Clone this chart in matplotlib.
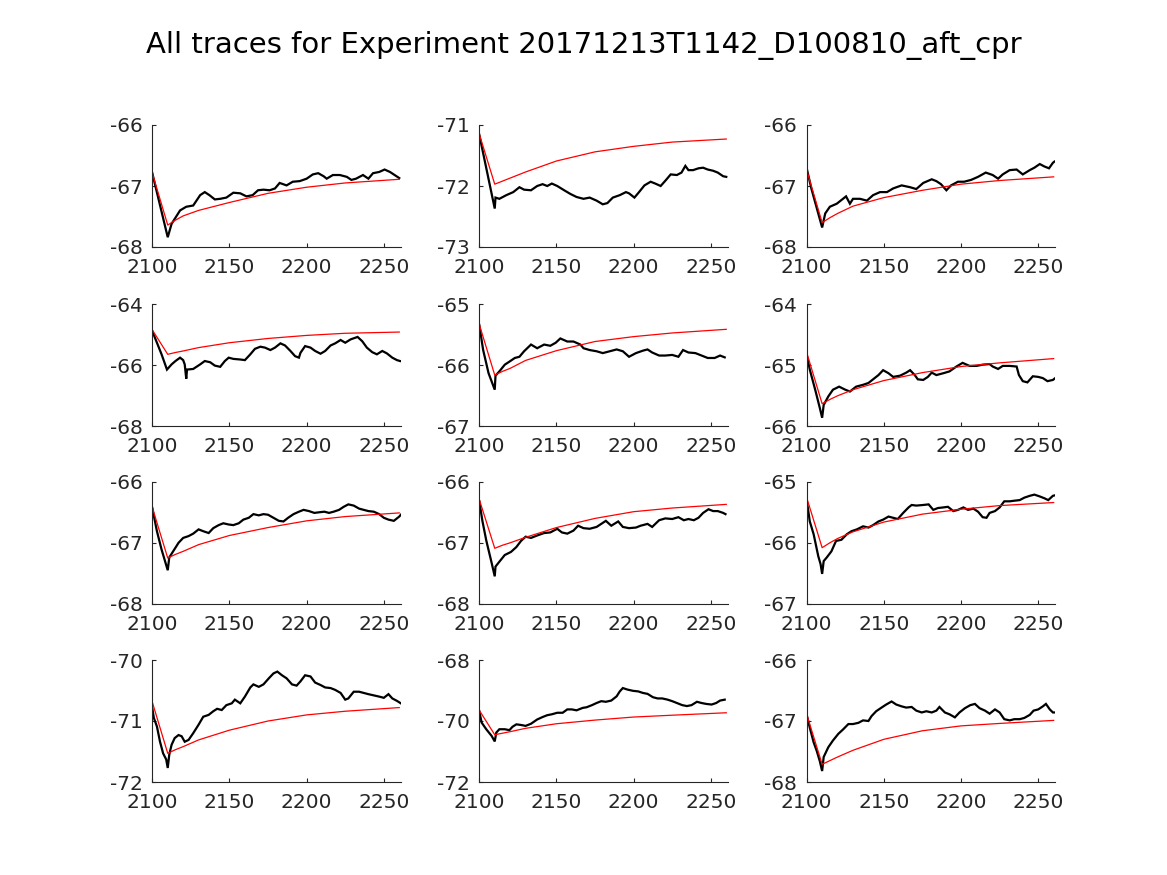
import matplotlib
matplotlib.use("Agg")
import matplotlib.pyplot as plt

title = "All traces for Experiment 20171213T1142_D100810_aft_cpr"

x_ticks = [2100, 2150, 2200, 2250]
x_limits = (2100, 2261)

# y-axis ticks of each panel (row-major order)
y_ticks = [
    [-68, -67, -66], [-73, -72, -71], [-68, -67, -66],
    [-68, -66, -64], [-67, -66, -65], [-66, -65, -64],
    [-68, -67, -66], [-68, -67, -66], [-67, -66, -65],
    [-72, -71, -70], [-72, -70, -68], [-68, -67, -66],
]

# Fitted (red) curves, common time grid
fit_t = [2100, 2110, 2115, 2120, 2130, 2150, 2175, 2200, 2225, 2260]
fit_1 = [-66.79, -67.64, -67.56, -67.49, -67.40, -67.27, -67.12, -67.02, -66.95, -66.89]
fit_2 = [-71.15, -71.97, -71.92, -71.87, -71.77, -71.59, -71.44, -71.35, -71.28, -71.23]
fit_3 = [-66.74, -67.60, -67.52, -67.45, -67.33, -67.19, -67.07, -66.97, -66.91, -66.85]
fit_4 = [-64.84, -65.64, -65.58, -65.53, -65.42, -65.26, -65.12, -65.02, -64.95, -64.91]
fit_5 = [-65.33, -66.16, -66.10, -66.05, -65.92, -65.76, -65.61, -65.53, -65.47, -65.41]
fit_6 = [-64.79, -65.63, -65.56, -65.50, -65.40, -65.25, -65.12, -65.02, -64.96, -64.89]
fit_7 = [-66.42, -67.25, -67.19, -67.14, -67.03, -66.88, -66.75, -66.64, -66.57, -66.51]
fit_8 = [-66.29, -67.09, -67.04, -67.00, -66.91, -66.75, -66.60, -66.49, -66.43, -66.37]
fit_9 = [-65.26, -66.08, -66.00, -65.93, -65.82, -65.66, -65.53, -65.45, -65.39, -65.34]
fit_10 = [-70.69, -71.53, -71.47, -71.42, -71.31, -71.15, -71.00, -70.90, -70.84, -70.78]
fit_11 = [-69.65, -70.45, -70.40, -70.35, -70.24, -70.09, -69.97, -69.87, -69.81, -69.73]
fit_12 = [-66.89, -67.71, -67.65, -67.59, -67.48, -67.30, -67.16, -67.08, -67.04, -66.99]

# Recorded (black) traces
trace_t_1 = [2100, 2110, 2112.5, 2118, 2122, 2126.5, 2131, 2134, 2137, 2140.5, 2144, 2148, 2152.5, 2157,
             2161, 2165, 2168.5, 2172, 2176, 2179.5, 2182.5, 2187, 2191, 2195.5, 2200, 2204, 2207.5, 2211,
             2213, 2217, 2221.5, 2226, 2229, 2232, 2236.5, 2240, 2243, 2247, 2250.5, 2254, 2257, 2260]
trace_v_1 = [-66.79, -67.84, -67.62, -67.40, -67.34, -67.32, -67.15, -67.10, -67.15, -67.22, -67.21, -67.19,
             -67.11, -67.12, -67.17, -67.15, -67.07, -67.06, -67.07, -67.04, -66.95, -66.99, -66.93, -66.92,
             -66.88, -66.81, -66.79, -66.84, -66.88, -66.82, -66.82, -66.85, -66.90, -66.88, -66.82, -66.88,
             -66.79, -66.77, -66.73, -66.77, -66.82, -66.87]

trace_t_2 = [2100, 2110, 2110.5, 2113, 2117.5, 2122, 2126, 2129, 2133.5, 2137.5, 2141, 2144, 2147, 2150.5,
             2155, 2159, 2163, 2167.5, 2171.5, 2176, 2180, 2183, 2186.5, 2191, 2195, 2197, 2200.5, 2203.5,
             2207, 2211, 2214, 2217.5, 2221, 2224, 2228, 2231, 2233.5, 2235.5, 2238.5, 2242, 2245, 2248,
             2251.5, 2254.5, 2258, 2260]
trace_v_2 = [-71.16, -72.37, -72.19, -72.21, -72.15, -72.10, -72.02, -72.06, -72.07, -72.00, -71.97, -72.00,
             -71.96, -72.00, -72.07, -72.13, -72.18, -72.21, -72.19, -72.24, -72.30, -72.28, -72.19, -72.15,
             -72.10, -72.12, -72.19, -72.10, -71.99, -71.93, -71.96, -72.00, -71.90, -71.81, -71.82, -71.78,
             -71.67, -71.74, -71.74, -71.71, -71.70, -71.73, -71.75, -71.78, -71.84, -71.85]

trace_t_3 = [2100, 2103, 2110, 2112, 2115, 2119.5, 2122.5, 2125.5, 2128, 2130, 2134.5, 2139, 2143, 2147.5,
             2152, 2156, 2161.5, 2167, 2171, 2175.5, 2181, 2184, 2187, 2190.5, 2193.5, 2198, 2202, 2206.5,
             2211, 2216, 2220.5, 2224, 2227, 2231.5, 2236, 2240, 2244.5, 2247.5, 2251, 2254, 2257, 2259.5,
             2260.5]
trace_v_3 = [-66.71, -67.04, -67.68, -67.45, -67.34, -67.29, -67.23, -67.17, -67.29, -67.21, -67.21, -67.24,
             -67.15, -67.10, -67.10, -67.04, -66.99, -67.02, -67.05, -66.95, -66.89, -66.92, -66.97, -67.07,
             -66.99, -66.93, -66.93, -66.90, -66.85, -66.78, -66.82, -66.88, -66.81, -66.74, -66.73, -66.81,
             -66.74, -66.70, -66.64, -66.68, -66.71, -66.62, -66.60]

trace_t_4 = [2100, 2103, 2106, 2109.5, 2112.5, 2115, 2118, 2120, 2121, 2122, 2122.5, 2126.5, 2131, 2134,
             2137.5, 2140.5, 2144, 2147, 2149.5, 2152.5, 2157, 2160, 2163.5, 2166.5, 2170, 2173, 2176.5,
             2179.5, 2183, 2186, 2189.5, 2192.5, 2195, 2196, 2199, 2202.5, 2205.5, 2209, 2212, 2215.5,
             2218.5, 2222, 2225, 2228.5, 2233, 2236, 2239, 2242.5, 2245.5, 2249, 2252, 2255.5, 2258.5, 2260.5]
trace_v_4 = [-64.88, -65.26, -65.64, -66.14, -65.97, -65.86, -65.75, -65.83, -65.97, -66.44, -66.14, -66.12,
             -65.97, -65.86, -65.90, -66.01, -66.05, -65.86, -65.75, -65.79, -65.81, -65.83, -65.64, -65.46,
             -65.39, -65.42, -65.50, -65.42, -65.28, -65.35, -65.53, -65.70, -65.75, -65.59, -65.37, -65.42,
             -65.53, -65.62, -65.53, -65.35, -65.28, -65.17, -65.26, -65.15, -65.07, -65.21, -65.42, -65.57,
             -65.64, -65.53, -65.61, -65.75, -65.83, -65.86]

trace_t_5 = [2100, 2102.5, 2106, 2110, 2110.5, 2113, 2116.5, 2119.5, 2123, 2126, 2129, 2133.5, 2137.5, 2142,
             2146, 2149.5, 2152.5, 2157, 2161, 2165.5, 2167.5, 2171.5, 2176, 2180, 2184.5, 2189, 2193, 2197,
             2201.5, 2206, 2209, 2212, 2216.5, 2220.5, 2225, 2229, 2232, 2235.5, 2240, 2244, 2248, 2252.5,
             2256, 2259]
trace_v_5 = [-65.34, -65.75, -66.13, -66.40, -66.17, -66.10, -65.99, -65.94, -65.88, -65.86, -65.77, -65.66,
             -65.72, -65.66, -65.68, -65.63, -65.56, -65.61, -65.61, -65.66, -65.72, -65.75, -65.77, -65.80,
             -65.77, -65.74, -65.77, -65.86, -65.80, -65.76, -65.74, -65.79, -65.84, -65.84, -65.83, -65.86,
             -65.75, -65.79, -65.80, -65.84, -65.88, -65.88, -65.84, -65.87]

trace_t_6 = [2100, 2102, 2105.5, 2108.5, 2110, 2111, 2114, 2117, 2121, 2125, 2128, 2132, 2136.5, 2140, 2143,
             2146.5, 2149.5, 2153, 2156, 2160.5, 2164.5, 2167, 2170, 2172, 2175.5, 2178.5, 2181, 2184, 2188.5,
             2192.5, 2197, 2201, 2205.5, 2210, 2214, 2218.5, 2220.5, 2224, 2227, 2231.5, 2236, 2237.5, 2240,
             2243, 2246.5, 2250, 2253, 2256, 2259.5, 2261]
trace_v_6 = [-64.83, -65.07, -65.40, -65.70, -65.86, -65.65, -65.51, -65.40, -65.35, -65.40, -65.43, -65.35,
             -65.32, -65.29, -65.23, -65.16, -65.08, -65.13, -65.19, -65.17, -65.12, -65.08, -65.16, -65.23,
             -65.24, -65.19, -65.12, -65.16, -65.13, -65.10, -65.02, -64.96, -65.01, -65.01, -64.99, -64.98,
             -65.02, -65.06, -65.01, -65.01, -65.02, -65.16, -65.26, -65.28, -65.18, -65.19, -65.21, -65.26,
             -65.24, -65.21]

trace_t_7 = [2100, 2103, 2106, 2110, 2111, 2113.5, 2117, 2120, 2123.5, 2126.5, 2130, 2133, 2136.5, 2139.5,
             2143, 2146, 2149.5, 2152.5, 2156, 2159, 2162.5, 2165.5, 2169, 2172, 2175, 2178.5, 2182, 2185,
             2188, 2191.5, 2195, 2198, 2201.5, 2205, 2208, 2211.5, 2214.5, 2217.5, 2221, 2224, 2227, 2230.5,
             2234, 2237, 2240, 2243.5, 2247, 2250, 2253, 2256.5, 2260, 2261]
trace_v_7 = [-66.43, -66.81, -67.11, -67.45, -67.24, -67.14, -67.00, -66.92, -66.89, -66.85, -66.78, -66.81,
             -66.84, -66.76, -66.71, -66.68, -66.70, -66.71, -66.68, -66.62, -66.59, -66.53, -66.55, -66.53,
             -66.54, -66.59, -66.64, -66.65, -66.59, -66.53, -66.49, -66.46, -66.48, -66.51, -66.50, -66.49,
             -66.51, -66.49, -66.46, -66.41, -66.37, -66.39, -66.44, -66.46, -66.48, -66.49, -66.53, -66.59,
             -66.62, -66.64, -66.57, -66.54]

trace_t_8 = [2100, 2102, 2104.5, 2108, 2110, 2110.5, 2113, 2116.5, 2120.5, 2124, 2127, 2130, 2133.5, 2137.5,
             2142, 2146, 2150.5, 2153.5, 2157, 2161, 2164, 2167.5, 2171.5, 2176, 2179, 2182, 2185.5, 2190,
             2193, 2197, 2201.5, 2204.5, 2209, 2212, 2216.5, 2220.5, 2225, 2229, 2232.5, 2235.5, 2239, 2242,
             2245, 2248.5, 2251.5, 2254.5, 2258, 2259.5]
trace_v_8 = [-66.32, -66.64, -66.96, -67.33, -67.55, -67.39, -67.31, -67.20, -67.15, -67.07, -66.97, -66.90,
             -66.92, -66.88, -66.84, -66.83, -66.77, -66.83, -66.85, -66.80, -66.72, -66.76, -66.77, -66.74,
             -66.69, -66.64, -66.72, -66.65, -66.74, -66.76, -66.75, -66.72, -66.69, -66.74, -66.63, -66.60,
             -66.61, -66.58, -66.63, -66.61, -66.63, -66.59, -66.51, -66.45, -66.48, -66.48, -66.51, -66.53]

trace_t_9 = [2100, 2102, 2104.5, 2107.5, 2109, 2110, 2111, 2113, 2116, 2119, 2122.5, 2126, 2129, 2132.5,
             2136.5, 2140, 2143, 2146.5, 2149.5, 2153, 2156, 2159, 2162.5, 2166, 2168, 2171, 2175.5, 2179,
             2182, 2185, 2188.5, 2191.5, 2195, 2198, 2201.5, 2204.5, 2208, 2211, 2214, 2216.5, 2218.5, 2222,
             2225, 2228, 2231.5, 2234.5, 2238, 2241, 2244.5, 2247.5, 2251, 2254, 2256.5, 2259.5, 2261]
trace_v_9 = [-65.30, -65.65, -65.86, -66.22, -66.35, -66.51, -66.30, -66.24, -66.14, -65.97, -65.95, -65.86,
             -65.81, -65.78, -65.73, -65.75, -65.71, -65.65, -65.62, -65.57, -65.59, -65.61, -65.51, -65.42,
             -65.38, -65.39, -65.38, -65.37, -65.46, -65.43, -65.42, -65.41, -65.48, -65.46, -65.42, -65.46,
             -65.44, -65.49, -65.58, -65.59, -65.51, -65.48, -65.42, -65.32, -65.32, -65.31, -65.30, -65.26,
             -65.23, -65.21, -65.24, -65.27, -65.30, -65.23, -65.22]

trace_t_10 = [2100, 2101, 2103, 2105, 2107, 2109, 2110, 2111, 2112.5, 2114.5, 2117, 2119, 2121, 2123.5,
              2126.5, 2130, 2133, 2136.5, 2139.5, 2142, 2145, 2148, 2151.5, 2153.5, 2157, 2160, 2163.5,
              2165.5, 2169, 2172, 2175.5, 2178.5, 2181, 2184, 2187, 2190.5, 2193.5, 2196, 2199, 2202.5,
              2205.5, 2209, 2212, 2215.5, 2218.5, 2222, 2225, 2227, 2230.5, 2234, 2237, 2240, 2243.5, 2247,
              2250, 2253, 2255.5, 2258.5, 2261]
trace_v_10 = [-70.79, -70.95, -71.09, -71.34, -71.53, -71.63, -71.77, -71.55, -71.39, -71.28, -71.23, -71.25,
              -71.34, -71.31, -71.20, -71.06, -70.93, -70.90, -70.84, -70.80, -70.82, -70.74, -70.71, -70.65,
              -70.71, -70.60, -70.45, -70.40, -70.44, -70.40, -70.30, -70.22, -70.19, -70.25, -70.30, -70.40,
              -70.42, -70.35, -70.25, -70.27, -70.37, -70.41, -70.45, -70.46, -70.49, -70.54, -70.65, -70.63,
              -70.52, -70.52, -70.54, -70.56, -70.58, -70.60, -70.62, -70.56, -70.63, -70.67, -70.71]

trace_t_11 = [2100, 2101.5, 2104.5, 2108, 2110, 2111, 2113, 2116.5, 2119.5, 2121.5, 2124, 2127, 2130, 2133.5,
              2137.5, 2141, 2144, 2147, 2150.5, 2154, 2157, 2160, 2163, 2167, 2169.5, 2173, 2176, 2179, 2182,
              2185.5, 2189, 2191, 2193, 2196, 2199.5, 2203, 2206, 2209, 2212.5, 2215.5, 2218.5, 2222, 2225,
              2228, 2231.5, 2234.5, 2237.5, 2241, 2244, 2247, 2250.5, 2253.5, 2256, 2259]
trace_v_11 = [-69.68, -70.05, -70.27, -70.49, -70.67, -70.38, -70.27, -70.27, -70.30, -70.19, -70.11, -70.13,
              -70.16, -70.09, -69.95, -69.87, -69.81, -69.78, -69.73, -69.73, -69.62, -69.62, -69.65, -69.57,
              -69.55, -69.48, -69.41, -69.35, -69.37, -69.33, -69.19, -69.03, -68.92, -68.97, -69.01, -69.03,
              -69.08, -69.11, -69.22, -69.26, -69.26, -69.30, -69.35, -69.41, -69.48, -69.51, -69.48, -69.37,
              -69.41, -69.44, -69.46, -69.41, -69.33, -69.30]

trace_t_12 = [2100, 2102, 2104.5, 2106.5, 2108.5, 2110, 2111, 2114, 2117, 2120.5, 2123.5, 2127, 2130, 2133.5,
              2136.5, 2140, 2142, 2145, 2148.5, 2151.5, 2155, 2158, 2161.5, 2164.5, 2168, 2171, 2174.5,
              2177.5, 2181, 2184, 2186, 2189.5, 2192.5, 2196, 2199, 2202.5, 2206, 2209, 2212, 2215.5, 2218.5,
              2222, 2225, 2228, 2231.5, 2234.5, 2238, 2241, 2244.5, 2247, 2250, 2253, 2255, 2257.5, 2259.5,
              2261]
trace_v_12 = [-66.90, -67.11, -67.35, -67.49, -67.66, -67.82, -67.59, -67.43, -67.32, -67.21, -67.14, -67.05,
              -67.05, -67.03, -66.99, -67.00, -66.92, -66.84, -66.78, -66.73, -66.68, -66.73, -66.76, -66.78,
              -66.77, -66.83, -66.86, -66.84, -66.86, -66.83, -66.77, -66.86, -66.89, -66.94, -66.86, -66.79,
              -66.74, -66.72, -66.79, -66.83, -66.88, -66.81, -66.86, -66.97, -66.99, -66.97, -66.97, -66.95,
              -66.90, -66.83, -66.81, -66.76, -66.72, -66.81, -66.86, -66.86]

traces_t = [trace_t_1, trace_t_2, trace_t_3, trace_t_4, trace_t_5, trace_t_6,
            trace_t_7, trace_t_8, trace_t_9, trace_t_10, trace_t_11, trace_t_12]
traces_v = [trace_v_1, trace_v_2, trace_v_3, trace_v_4, trace_v_5, trace_v_6,
            trace_v_7, trace_v_8, trace_v_9, trace_v_10, trace_v_11, trace_v_12]
fits = [fit_1, fit_2, fit_3, fit_4, fit_5, fit_6, fit_7, fit_8, fit_9, fit_10, fit_11, fit_12]

W, H = 1167, 875
fig = plt.figure(figsize=(W / 100, H / 100), dpi=100)
fig.patch.set_facecolor("white")

col_left_px = [152.3, 479.3, 806.7]
row_top_px = [125, 304.3, 481.8, 660]
ax_w_px = 248.5
ax_h_px = 122.0

axis_color = (0.15, 0.15, 0.15)

for i in range(12):
    r, c = divmod(i, 3)
    left = col_left_px[c] / W
    bottom = 1 - (row_top_px[r] + ax_h_px) / H
    ax = fig.add_axes([left, bottom, ax_w_px / W, ax_h_px / H])
    ax.plot(traces_t[i], traces_v[i], color="black", lw=1.6, solid_joinstyle="miter")
    ax.plot(fit_t, fits[i], color="red", lw=0.9)
    ax.set_xlim(*x_limits)
    ax.set_ylim(y_ticks[i][0], y_ticks[i][-1])
    ax.set_xticks(x_ticks)
    ax.set_yticks(y_ticks[i])
    ax.set_xticklabels([str(v) for v in x_ticks])
    ax.set_yticklabels([str(v) for v in y_ticks[i]])
    for s in ("top", "right"):
        ax.spines[s].set_visible(False)
    for s in ("left", "bottom"):
        ax.spines[s].set_color(axis_color)
        ax.spines[s].set_linewidth(0.8)
    ax.tick_params(direction="in", length=3, width=0.8, colors=axis_color,
                   labelsize=14.5, labelcolor=axis_color)
    ax.tick_params(axis="x", pad=8)
    ax.tick_params(axis="y", pad=7)

fig.text(0.5, 1 - 45 / H, title, ha="center", va="center", fontsize=21, color="black")

fig.savefig("out.png", dpi=100, facecolor="white")
